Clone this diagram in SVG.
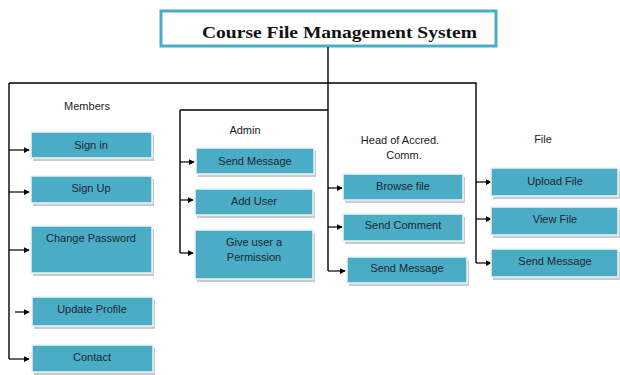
<svg xmlns="http://www.w3.org/2000/svg" width="620" height="375" viewBox="0 0 620 375">
  <style>
    .shadow { fill: #c9ccce; }
    .box { fill: #4bacc6; stroke: #eef3f6; stroke-width: 1.5; }
    .lbl { font-family: "Liberation Sans", Arial, sans-serif; font-size: 11px; fill: #1b2733; text-anchor: middle; }
    .head { font-family: "Liberation Sans", Arial, sans-serif; font-size: 11px; fill: #1b1b1b; text-anchor: middle; }
    .wire { fill: none; stroke: #000; stroke-width: 1.4; }
    .arr { fill: none; stroke: #000; stroke-width: 1.2; marker-end: url(#tip); }
  </style>
  <defs>
    <marker id="tip" viewBox="0 0 8 8" refX="7" refY="4" markerWidth="6" markerHeight="6" markerUnits="userSpaceOnUse" orient="auto">
      <path d="M0,0 L8,4 L0,8 z" fill="#000"/>
    </marker>
  </defs>
  <rect width="620" height="375" fill="#fff"/>

  <!-- title -->
  <g id="title">
    <rect x="161" y="11" width="335" height="35" fill="#fff" stroke="#4bacc6" stroke-width="3"/>
    <text x="202" y="38" font-family="Liberation Serif, 'DejaVu Serif', serif" font-weight="bold" font-size="17" textLength="275" lengthAdjust="spacingAndGlyphs" fill="#111">Course File Management System</text>
  </g>

  <!-- connectors -->
  <g id="connectors">
    <!-- trunk and top bus -->
    <path class="wire" d="M328,47 V271"/>
    <path class="wire" d="M9,83 H476 V263"/>
    <path class="wire" d="M180,110 H328"/>
    <!-- members spine -->
    <path class="wire" d="M9,83 V359"/>
    <path class="arr" d="M9,150 H29"/>
    <path class="arr" d="M9,192 H29"/>
    <path class="arr" d="M9,250 H29"/>
    <path class="arr" d="M15,312 H29"/>
    <path class="arr" d="M9,359 H29"/>
    <!-- admin spine -->
    <path class="wire" d="M180,110 V253"/>
    <path class="arr" d="M180,162 H194"/>
    <path class="arr" d="M180,200 H193"/>
    <path class="arr" d="M180,253 H193"/>
    <!-- head of accreditation committee -->
    <path class="arr" d="M328,188 H342"/>
    <path class="arr" d="M328,227 H342"/>
    <path class="arr" d="M328,271 H345"/>
    <!-- file -->
    <path class="arr" d="M476,182 H491"/>
    <path class="arr" d="M476,219 H491"/>
    <path class="arr" d="M476,263 H491"/>
  </g>

  <!-- group headings -->
  <g id="heading-members"><text class="head" x="87" y="110">Members</text></g>
  <g id="heading-admin"><text class="head" x="245" y="134">Admin</text></g>
  <g id="heading-head"><text class="head" x="400" y="144">Head of Accred.</text><text class="head" x="404" y="159">Comm.</text></g>
  <g id="heading-file"><text class="head" x="543" y="143">File</text></g>

  <!-- members -->
  <g id="sign-in"><rect class="shadow" x="33" y="135" width="121" height="26"/><rect class="box" x="31" y="132" width="121" height="26"/><text class="lbl" x="91" y="149">Sign in</text></g>
  <g id="sign-up"><rect class="shadow" x="33" y="179" width="121" height="27"/><rect class="box" x="31" y="176" width="121" height="27"/><text class="lbl" x="91" y="192">Sign Up</text></g>
  <g id="change-password"><rect class="shadow" x="33" y="229" width="121" height="47"/><rect class="box" x="31" y="226" width="121" height="47"/><text class="lbl" x="91" y="242">Change Password</text></g>
  <g id="update-profile"><rect class="shadow" x="34" y="300" width="121" height="29"/><rect class="box" x="32" y="297" width="121" height="29"/><text class="lbl" x="92" y="313">Update Profile</text></g>
  <g id="contact"><rect class="shadow" x="34" y="348" width="121" height="27"/><rect class="box" x="32" y="345" width="121" height="27"/><text class="lbl" x="92" y="361">Contact</text></g>

  <!-- admin -->
  <g id="admin-send-message"><rect class="shadow" x="198" y="151" width="118" height="26"/><rect class="box" x="196" y="148" width="118" height="26"/><text class="lbl" x="255" y="165">Send Message</text></g>
  <g id="add-user"><rect class="shadow" x="197" y="192" width="118" height="26"/><rect class="box" x="195" y="189" width="118" height="26"/><text class="lbl" x="254" y="205">Add User</text></g>
  <g id="give-permission"><rect class="shadow" x="197" y="233" width="118" height="49"/><rect class="box" x="195" y="230" width="118" height="49"/><text class="lbl" x="254" y="246">Give user a</text><text class="lbl" x="254" y="261">Permission</text></g>

  <!-- head of accreditation committee -->
  <g id="browse-file"><rect class="shadow" x="345" y="177" width="120" height="26"/><rect class="box" x="343" y="174" width="120" height="26"/><text class="lbl" x="403" y="190">Browse file</text></g>
  <g id="send-comment"><rect class="shadow" x="345" y="217" width="120" height="27"/><rect class="box" x="343" y="214" width="120" height="27"/><text class="lbl" x="403" y="229">Send Comment</text></g>
  <g id="head-send-message"><rect class="shadow" x="349" y="260" width="120" height="26"/><rect class="box" x="347" y="257" width="120" height="26"/><text class="lbl" x="407" y="272">Send Message</text></g>

  <!-- file -->
  <g id="upload-file"><rect class="shadow" x="493" y="171" width="127" height="28"/><rect class="box" x="491" y="168" width="127" height="28"/><text class="lbl" x="555" y="185">Upload File</text></g>
  <g id="view-file"><rect class="shadow" x="493" y="210" width="127" height="28"/><rect class="box" x="491" y="207" width="127" height="28"/><text class="lbl" x="555" y="223">View File</text></g>
  <g id="file-send-message"><rect class="shadow" x="493" y="252" width="127" height="28"/><rect class="box" x="491" y="249" width="127" height="28"/><text class="lbl" x="555" y="265">Send Message</text></g>
</svg>
